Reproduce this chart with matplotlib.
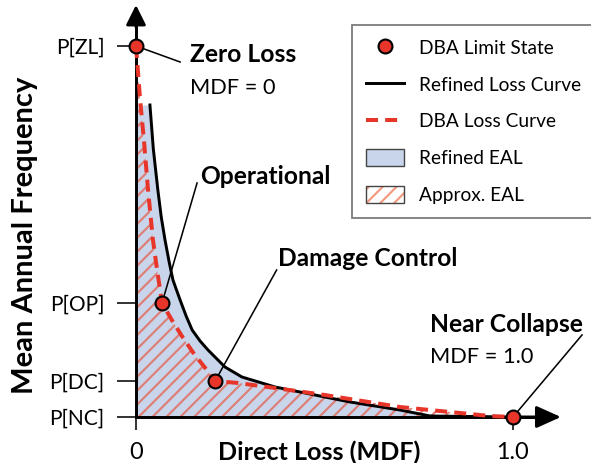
import matplotlib.pyplot as plt
from matplotlib.lines import Line2D
from matplotlib.patches import Patch
from matplotlib.legend_handler import HandlerTuple

plt.rcParams["font.family"] = ["Lato", "DejaVu Sans"]
plt.rcParams["hatch.linewidth"] = 1.25

# limit states (x = MDF, y = mean annual frequency, schematic units)
state_names = ["ZL", "OP", "DC", "NC"]
state_mdf = [0.0, 0.069, 0.21, 1.0]
state_freq = [3.71, 1.14, 0.36, 0.0]

# refined loss curve
refined_mdf = [0.0, 0.037, 0.046, 0.058, 0.067, 0.077, 0.088, 0.098, 0.117,
               0.133, 0.149, 0.170, 0.191, 0.236, 0.281, 0.369, 0.501,
               0.568, 0.700, 0.780, 1.0]
refined_freq = [3.12, 3.12, 2.68, 2.27, 2.00, 1.77, 1.55, 1.37, 1.17,
                1.01, 0.87, 0.76, 0.67, 0.50, 0.40, 0.30, 0.20,
                0.15, 0.07, 0.01, 0.0]

# DBA loss curve (through the limit states)
dba_mdf = [0.0, 0.005, 0.011, 0.021, 0.032, 0.045, 0.056, 0.069, 0.095,
           0.125, 0.156, 0.188, 0.21, 0.271, 0.369, 0.501, 0.700, 0.833, 0.939, 1.0]
dba_freq = [3.71, 3.47, 3.17, 2.77, 2.27, 1.77, 1.47, 1.14, 0.97,
            0.79, 0.62, 0.47, 0.36, 0.34, 0.29, 0.22, 0.10, 0.05, 0.01, 0.0]

blue = "#c9d5eb"
hatch_red = "#dd7f76"
red = "#e8352a"

fig = plt.figure(figsize=(4.728, 3.704), dpi=125)
ax = fig.add_axes([0, 0, 1, 1])
ax.set_xlim(-0.3607, 1.2069)
ax.set_ylim(-0.46, 4.17)

ax.fill_between(refined_mdf, refined_freq, 0, color=blue, lw=0, zorder=1)
ax.fill_between(dba_mdf, dba_freq, 0, facecolor="none", edgecolor=hatch_red,
                hatch="///", lw=0, zorder=2)
ax.plot(refined_mdf[1:], refined_freq[1:], color="black", lw=1.7, zorder=3)
ax.plot(dba_mdf, dba_freq, color=red, lw=2.3, dashes=(3, 1.8), zorder=4)

# leader lines + labels
ax.plot([0.0, 0.117], [3.71, 3.55], color="black", lw=0.9, zorder=3)
ax.plot([0.069, 0.162], [1.14, 2.34], color="black", lw=0.9, zorder=3)
ax.plot([0.21, 0.373], [0.36, 1.47], color="black", lw=0.9, zorder=3)
ax.plot([1.0, 1.183], [0.0, 0.82], color="black", lw=0.9, zorder=3)

ax.plot(state_mdf, state_freq, "o", ms=8, mfc=red, mec="black", mew=1.2,
        zorder=6, clip_on=False)

ax.text(0.143, 3.62, "Zero Loss", fontsize=14.2, fontweight="bold", va="center")
ax.text(0.143, 3.29, "MDF = 0", fontsize=12.5, va="center")
ax.text(0.170, 2.40, "Operational", fontsize=14.2, fontweight="bold", va="center")
ax.text(0.377, 1.59, "Damage Control", fontsize=14.2, fontweight="bold", va="center")
ax.text(0.780, 0.92, "Near Collapse", fontsize=14.2, fontweight="bold", va="center")
ax.text(0.780, 0.60, "MDF = 1.0", fontsize=12.5, va="center")

# axes
for side in ["top", "right"]:
    ax.spines[side].set_visible(False)
ax.spines["left"].set_position(("data", 0))
ax.spines["bottom"].set_position(("data", 0))
ax.spines["left"].set_bounds(0, 4.0)
ax.spines["bottom"].set_bounds(0, 1.08)
ax.spines["left"].set_linewidth(1.7)
ax.spines["bottom"].set_linewidth(1.7)
ax.annotate("", xy=(0, 4.12), xytext=(0, 3.9),
            arrowprops=dict(arrowstyle="-|>,head_length=0.8,head_width=0.4",
                            color="black", lw=1.7, shrinkA=0, shrinkB=0,
                            mutation_scale=12))
ax.annotate("", xy=(1.127, 0), xytext=(1.0, 0),
            arrowprops=dict(arrowstyle="-|>,head_length=1.0,head_width=0.45",
                            color="black", lw=1.7, shrinkA=0, shrinkB=0,
                            mutation_scale=12))

ax.set_yticks(state_freq)
ax.set_yticklabels(["P[" + s + "]" for s in state_names])
ax.set_xticks([0, 1.0])
ax.set_xticklabels(["0", "1.0"])
ax.tick_params(axis="y", direction="out", length=11, width=0.9, pad=7,
               labelsize=12)
ax.tick_params(axis="x", direction="out", length=7.5, width=0.9, pad=7,
               labelsize=13.5)

fig.text(319 / 591, 1 - 452 / 463, "Direct Loss (MDF)", fontsize=14.5,
         fontweight="bold", ha="center", va="center")
fig.text(25 / 591, 1 - 235 / 463, "Mean Annual Frequency", fontsize=16.8,
         fontweight="bold", ha="center", va="center", rotation=90)

handles = [
    Line2D([], [], ls="none", marker="o", ms=8, mfc=red, mec="black", mew=1.2),
    Line2D([], [], color="black", lw=1.7),
    Line2D([], [], color=red, lw=2.3, dashes=(3, 1.8)),
    Patch(facecolor=blue, edgecolor="#444444", lw=0.8),
    (Patch(facecolor="white", edgecolor="#f29a80", hatch="///", lw=0),
     Patch(fill=False, edgecolor="#444444", lw=0.8)),
]
labels = ["DBA Limit State", "Refined Loss Curve", "DBA Loss Curve",
          "Refined EAL", "Approx. EAL"]
leg = ax.legend(handles, labels, loc="upper left",
                bbox_to_anchor=(352 / 591, 1 - 25 / 463),
                bbox_transform=fig.transFigure, borderaxespad=0,
                fontsize=11, frameon=True, fancybox=False, edgecolor="#555555",
                handlelength=2.0, handleheight=1.0, labelspacing=0.98,
                borderpad=0.72, handletextpad=0.8,
                handler_map={tuple: HandlerTuple(ndivide=1, pad=0)})
leg.get_frame().set_linewidth(1.0)

fig.savefig("out.png", dpi=125)
